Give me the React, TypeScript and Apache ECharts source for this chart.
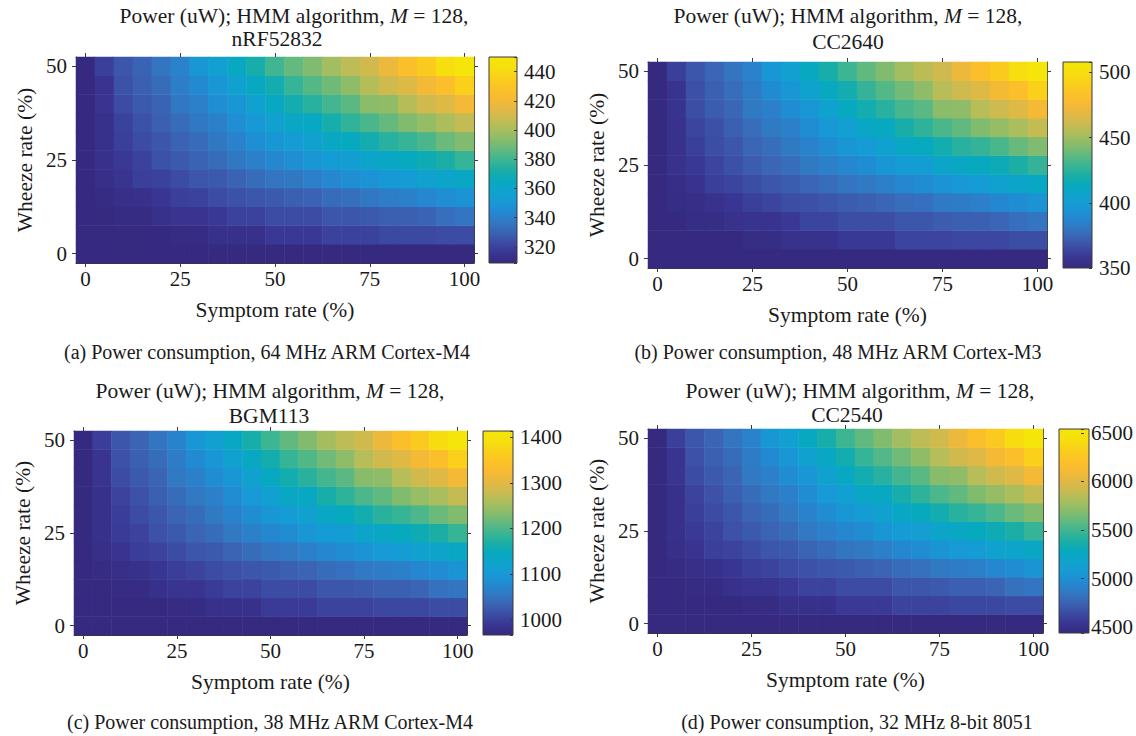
import React, { useEffect, useRef } from 'react';
import * as echarts from 'echarts';

// ---------- data ----------
const symptomRates = ['0', '5', '10', '15', '20', '25', '30', '35', '40', '45', '50', '55', '60', '65', '70', '75', '80', '85', '90', '95', '100'];
const wheezeRates = ['0', '5', '10', '15', '20', '25', '30', '35', '40', '45', '50'];

// rows: wheeze 0% (bottom) .. 50% (top); columns: symptom 0% .. 100%
const powerNRF52832 = [
  [309, 309, 309, 309, 309, 309, 309, 309, 309, 309, 309, 309, 309, 309, 309, 309, 309, 309, 309, 309, 309],
  [309, 309, 309, 309, 309, 310, 310, 313, 313, 313, 317, 317, 317, 320, 320, 320, 322, 322, 322, 323, 323],
  [309, 309, 310, 310, 313, 315, 315, 317, 320, 320, 323, 323, 323, 326, 326, 327, 329, 329, 330, 334, 336],
  [309, 310, 312, 313, 316, 319, 320, 323, 325, 326, 327, 329, 330, 333, 334, 337, 339, 340, 343, 346, 348],
  [309, 312, 315, 319, 320, 323, 326, 327, 330, 333, 336, 337, 340, 343, 346, 348, 351, 353, 357, 360, 363],
  [309, 313, 317, 320, 325, 327, 330, 333, 337, 340, 343, 346, 350, 353, 354, 360, 363, 365, 368, 372, 378],
  [309, 313, 319, 323, 326, 330, 333, 337, 341, 346, 350, 353, 357, 363, 365, 370, 375, 378, 382, 388, 392],
  [309, 313, 320, 325, 329, 333, 337, 340, 346, 351, 356, 363, 364, 371, 377, 382, 387, 392, 396, 401, 406],
  [309, 315, 323, 327, 330, 337, 340, 346, 350, 357, 364, 370, 375, 381, 385, 394, 395, 403, 409, 413, 420],
  [309, 315, 325, 329, 333, 339, 344, 350, 357, 364, 370, 378, 384, 389, 395, 403, 409, 413, 420, 426, 436],
  [309, 319, 326, 330, 336, 341, 350, 356, 364, 371, 380, 387, 392, 399, 405, 409, 418, 426, 433, 442, 450],
];

const powerCC2640 = [
  [350, 350, 350, 350, 350, 350, 350, 350, 350, 350, 350, 350, 350, 350, 350, 350, 350, 350, 350, 350, 350],
  [350, 350, 350, 350, 350, 352, 352, 355, 355, 355, 359, 359, 359, 363, 363, 363, 364, 364, 364, 366, 366],
  [350, 350, 352, 352, 355, 356, 356, 359, 363, 363, 366, 366, 366, 369, 369, 371, 372, 372, 374, 378, 380],
  [350, 352, 353, 355, 358, 361, 363, 366, 367, 369, 371, 372, 374, 377, 378, 382, 383, 385, 388, 391, 394],
  [350, 353, 356, 361, 363, 366, 369, 371, 374, 377, 380, 382, 385, 388, 391, 394, 397, 399, 404, 407, 410],
  [350, 355, 359, 363, 367, 371, 374, 377, 382, 385, 388, 391, 396, 399, 401, 407, 410, 413, 416, 421, 427],
  [350, 355, 361, 366, 369, 374, 377, 382, 386, 391, 396, 399, 404, 410, 413, 418, 424, 427, 432, 438, 443],
  [350, 355, 363, 367, 372, 377, 382, 385, 391, 397, 402, 410, 412, 420, 426, 432, 437, 443, 448, 453, 459],
  [350, 356, 366, 371, 374, 382, 385, 391, 396, 404, 412, 418, 424, 431, 435, 445, 446, 456, 462, 467, 475],
  [350, 356, 367, 372, 377, 383, 390, 396, 404, 412, 418, 427, 434, 440, 446, 456, 462, 467, 475, 481, 492],
  [350, 361, 369, 374, 380, 386, 396, 402, 412, 420, 429, 437, 443, 451, 457, 462, 472, 481, 489, 499, 508],
];

const powerBGM113 = [
  [966, 966, 966, 966, 966, 966, 966, 966, 966, 966, 966, 966, 966, 966, 966, 966, 966, 966, 966, 966, 966],
  [966, 966, 966, 966, 966, 970, 970, 979, 979, 979, 993, 993, 993, 1002, 1002, 1002, 1006, 1006, 1006, 1011, 1011],
  [966, 966, 970, 970, 979, 984, 984, 993, 1002, 1002, 1011, 1011, 1011, 1020, 1020, 1024, 1029, 1029, 1033, 1047, 1051],
  [966, 970, 975, 979, 988, 997, 1002, 1011, 1015, 1020, 1024, 1029, 1033, 1042, 1047, 1056, 1060, 1065, 1074, 1082, 1091],
  [966, 975, 984, 997, 1002, 1011, 1020, 1024, 1033, 1042, 1051, 1056, 1065, 1074, 1082, 1091, 1100, 1105, 1118, 1127, 1136],
  [966, 979, 993, 1002, 1015, 1024, 1033, 1042, 1056, 1065, 1074, 1082, 1096, 1105, 1109, 1127, 1136, 1145, 1154, 1168, 1186],
  [966, 979, 997, 1011, 1020, 1033, 1042, 1056, 1069, 1082, 1096, 1105, 1118, 1136, 1145, 1159, 1177, 1186, 1199, 1217, 1230],
  [966, 979, 1002, 1015, 1029, 1042, 1056, 1065, 1082, 1100, 1114, 1136, 1141, 1163, 1181, 1199, 1212, 1230, 1244, 1257, 1275],
  [966, 984, 1011, 1024, 1033, 1056, 1065, 1082, 1096, 1118, 1141, 1159, 1177, 1194, 1208, 1235, 1239, 1266, 1284, 1298, 1320],
  [966, 984, 1015, 1029, 1042, 1060, 1078, 1096, 1118, 1141, 1159, 1186, 1203, 1221, 1239, 1266, 1284, 1298, 1320, 1338, 1369],
  [966, 997, 1020, 1033, 1051, 1069, 1096, 1114, 1141, 1163, 1190, 1212, 1230, 1253, 1271, 1284, 1311, 1338, 1360, 1387, 1414],
];

const powerCC2540 = [
  [4440, 4440, 4440, 4440, 4440, 4440, 4440, 4440, 4440, 4440, 4440, 4440, 4440, 4440, 4440, 4440, 4440, 4440, 4440, 4440, 4440],
  [4440, 4440, 4440, 4440, 4440, 4461, 4461, 4503, 4503, 4503, 4566, 4566, 4566, 4608, 4608, 4608, 4629, 4629, 4629, 4650, 4650],
  [4440, 4440, 4461, 4461, 4503, 4524, 4524, 4566, 4608, 4608, 4650, 4650, 4650, 4692, 4692, 4713, 4734, 4734, 4755, 4818, 4839],
  [4440, 4461, 4482, 4503, 4545, 4587, 4608, 4650, 4671, 4692, 4713, 4734, 4755, 4797, 4818, 4860, 4881, 4902, 4944, 4986, 5028],
  [4440, 4482, 4524, 4587, 4608, 4650, 4692, 4713, 4755, 4797, 4839, 4860, 4902, 4944, 4986, 5028, 5070, 5091, 5154, 5196, 5238],
  [4440, 4503, 4566, 4608, 4671, 4713, 4755, 4797, 4860, 4902, 4944, 4986, 5049, 5091, 5112, 5196, 5238, 5280, 5322, 5385, 5469],
  [4440, 4503, 4587, 4650, 4692, 4755, 4797, 4860, 4923, 4986, 5049, 5091, 5154, 5238, 5280, 5343, 5427, 5469, 5532, 5616, 5679],
  [4440, 4503, 4608, 4671, 4734, 4797, 4860, 4902, 4986, 5070, 5133, 5238, 5259, 5364, 5448, 5532, 5595, 5679, 5742, 5805, 5889],
  [4440, 4524, 4650, 4713, 4755, 4860, 4902, 4986, 5049, 5154, 5259, 5343, 5427, 5511, 5574, 5700, 5721, 5847, 5931, 5994, 6099],
  [4440, 4524, 4671, 4734, 4797, 4881, 4965, 5049, 5154, 5259, 5343, 5469, 5553, 5637, 5721, 5847, 5931, 5994, 6099, 6183, 6330],
  [4440, 4587, 4692, 4755, 4839, 4923, 5049, 5133, 5259, 5364, 5490, 5595, 5679, 5784, 5868, 5931, 6057, 6183, 6288, 6414, 6540],
];

const panelData = [powerNRF52832, powerCC2640, powerBGM113, powerCC2540];
const deviceNames = ['nRF52832', 'CC2640', 'BGM113', 'CC2540'];
const captions = [
  '(a) Power consumption, 64 MHz ARM Cortex-M4',
  '(b) Power consumption, 48 MHz ARM Cortex-M3',
  '(c) Power consumption, 38 MHz ARM Cortex-M4',
  '(d) Power consumption, 32 MHz 8-bit 8051',
];
const colorMins = [309, 350, 966, 4440];
const colorMaxs = [450, 508, 1414, 6540];
const colorbarSteps = [20, 50, 100, 500];

// ---------- style / layout ----------
const parula = [
  '#352a80', '#393693', '#3c4ca4', '#3b64b5', '#3179c3', '#228ad2', '#179ad6',
  '#0fa3cd', '#07a9bf', '#1baea5', '#3cb593', '#62b97f', '#89bc6a', '#aabe5d',
  '#cbbb51', '#e4b843', '#f8ba33', '#fcc226', '#fad01a', '#f6e00d', '#f5e509',
];
const FONT = '"Liberation Serif", "Times New Roman", "DejaVu Serif", serif';
const TXT = '#1a1a1a';
const LINE = '#3a3a3a';
const FS_TITLE = 21.5;
const FS_NAME = 21.5;
const FS_TICK = 21;
const FS_CAP = 20;

const layouts = [
  { grid: { left: 76, top: 57, width: 398, height: 206 }, bar: { left: 489, width: 28 }, t1: [294, 16], t2: [277, 39], cap: [267, 352] },
  { grid: { left: 648, top: 62, width: 399, height: 206 }, bar: { left: 1063, width: 29 }, t1: [848, 16], t2: [848, 42], cap: [838, 352] },
  { grid: { left: 74, top: 431, width: 393, height: 204 }, bar: { left: 483, width: 30 }, t1: [270, 391], t2: [269, 416], cap: [270, 722] },
  { grid: { left: 648, top: 429, width: 395, height: 204 }, bar: { left: 1059, width: 30 }, t1: [860, 391], t2: [847, 415], cap: [857, 722] },
];

function buildOption() {
  const grid: any[] = [];
  const xAxis: any[] = [];
  const yAxis: any[] = [];
  const series: any[] = [];
  const visualMap: any[] = [];
  const graphic: any[] = [];

  const tickStyle = { lineStyle: { color: LINE, width: 1 } };
  const labelStyle = { color: TXT, fontSize: FS_TICK, fontFamily: FONT };
  const nameStyle = { color: TXT, fontSize: FS_NAME, fontFamily: FONT };

  layouts.forEach((L, i) => {
    const g = L.grid;
    grid.push({ left: g.left, top: g.top, width: g.width, height: g.height, containLabel: false });
    grid.push({ left: L.bar.left, top: g.top, width: L.bar.width, height: g.height, containLabel: false });
    const gi = 2 * i;

    // heatmap axes
    xAxis.push({
      type: 'category', gridIndex: gi, data: symptomRates, position: 'bottom',
      name: 'Symptom rate (%)', nameLocation: 'middle', nameGap: 36,
      nameTextStyle: nameStyle,
      axisLine: { show: true, lineStyle: { color: LINE, width: 1 } },
      axisTick: { show: true, alignWithLabel: true, interval: 4, length: 4, ...tickStyle },
      axisLabel: { interval: 4, margin: 5, ...labelStyle },
      splitLine: { show: false }, splitArea: { show: false },
    });
    xAxis.push({
      type: 'category', gridIndex: gi, data: symptomRates, position: 'top',
      axisLine: { show: true, lineStyle: { color: LINE, width: 1 } },
      axisTick: { show: true, alignWithLabel: true, interval: 4, length: 4, ...tickStyle },
      axisLabel: { show: false }, splitLine: { show: false },
    });
    xAxis.push({ type: 'category', gridIndex: gi + 1, data: [''], show: false });

    yAxis.push({
      type: 'category', gridIndex: gi, data: wheezeRates, position: 'left',
      name: 'Wheeze rate (%)', nameLocation: 'middle', nameGap: 40, nameRotate: 90,
      nameTextStyle: nameStyle,
      axisLine: { show: true, lineStyle: { color: LINE, width: 1 } },
      axisTick: { show: true, alignWithLabel: true, interval: 4, length: 4, ...tickStyle },
      axisLabel: { interval: 4, margin: 9, ...labelStyle },
      splitLine: { show: false }, splitArea: { show: false },
    });
    yAxis.push({
      type: 'category', gridIndex: gi, data: wheezeRates, position: 'right',
      axisLine: { show: true, lineStyle: { color: LINE, width: 1 } },
      axisTick: { show: true, alignWithLabel: true, interval: 4, length: 4, ...tickStyle },
      axisLabel: { show: false }, splitLine: { show: false },
    });
    const step = colorbarSteps[i];
    yAxis.push({
      type: 'value', gridIndex: gi + 1, position: 'right',
      min: colorMins[i], max: colorMaxs[i],
      splitNumber: Math.round((colorMaxs[i] - colorMins[i]) / step),
      minInterval: step, maxInterval: step,
      axisLine: { show: false },
      axisTick: { show: true, inside: true, length: 3, ...tickStyle },
      axisLabel: {
        margin: 7, ...labelStyle,
        formatter: (v: number) => (Math.abs(v % step) < 1e-6 ? String(v) : ''),
      },
      splitLine: { show: false },
    });

    const rows = panelData[i];
    const cells: any[] = [];
    rows.forEach((row, yi) => row.forEach((v, xi) => cells.push([xi, yi, v])));
    series.push({
      type: 'heatmap', xAxisIndex: 3 * i, yAxisIndex: 3 * i, data: cells,
      itemStyle: { borderWidth: 0 }, emphasis: { disabled: true },
    });
    visualMap.push({
      type: 'continuous', show: false, seriesIndex: i, dimension: 2,
      min: colorMins[i], max: colorMaxs[i], inRange: { color: parula },
    });

    // colorbar
    graphic.push({
      type: 'rect', z: -1,
      shape: { x: L.bar.left, y: g.top, width: L.bar.width, height: g.height },
      style: {
        fill: {
          type: 'linear', x: 0, y: 1, x2: 0, y2: 0,
          colorStops: parula.map((c, k) => ({ offset: k / (parula.length - 1), color: c })),
        },
        stroke: LINE, lineWidth: 1,
      },
    });

    // titles and caption
    graphic.push({
      type: 'text', x: L.t1[0], y: L.t1[1],
      style: {
        text: '{n|Power (uW); HMM algorithm, }{i|M}{n| = 128,}',
        align: 'center', verticalAlign: 'middle',
        rich: {
          n: { fontSize: FS_TITLE, fontFamily: FONT, fill: TXT, color: TXT },
          i: { fontSize: FS_TITLE, fontFamily: FONT, fontStyle: 'italic', fill: TXT, color: TXT },
        },
      },
    });
    graphic.push({
      type: 'text', x: L.t2[0], y: L.t2[1],
      style: { text: deviceNames[i], align: 'center', verticalAlign: 'middle', fontSize: FS_TITLE, fontFamily: FONT, fill: TXT },
    });
    graphic.push({
      type: 'text', x: L.cap[0], y: L.cap[1],
      style: { text: captions[i], align: 'center', verticalAlign: 'middle', fontSize: FS_CAP, fontFamily: FONT, fill: TXT },
    });
  });

  return {
    animation: false,
    backgroundColor: '#ffffff',
    textStyle: { fontFamily: FONT },
    grid, xAxis, yAxis, series, visualMap, graphic,
  };
}

export default function App() {
  const ref = useRef<HTMLDivElement>(null);
  useEffect(() => {
    if (!ref.current) return;
    const chart = echarts.init(ref.current, undefined, { renderer: 'svg' });
    chart.setOption(buildOption() as any);
    return () => chart.dispose();
  }, []);
  return (
    <div
      ref={ref}
      style={{ position: 'fixed', left: 0, top: 0, width: 1136, height: 736, background: '#fff' }}
    />
  );
}
